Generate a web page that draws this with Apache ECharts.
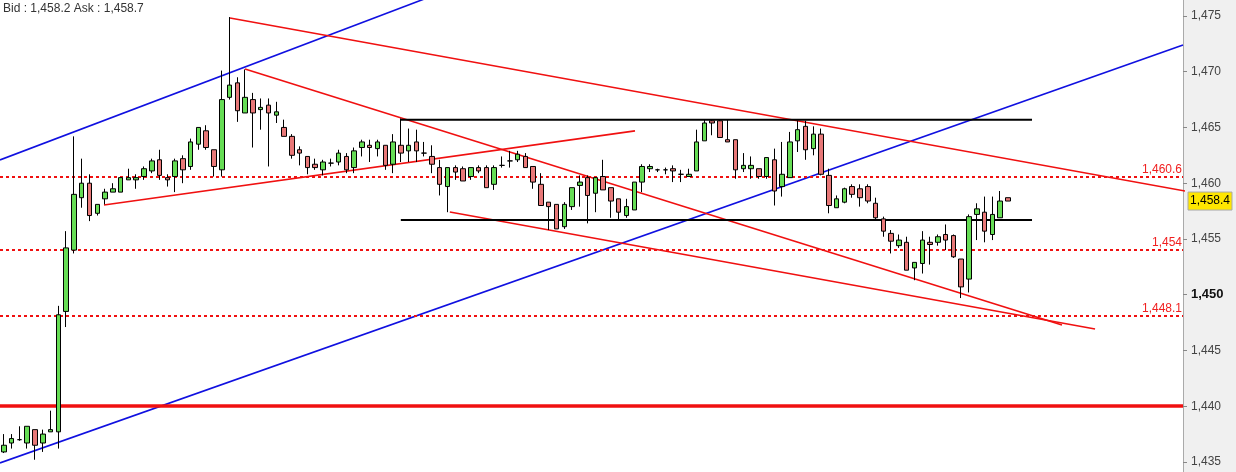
<!DOCTYPE html>
<html><head><meta charset="utf-8">
<script src="https://cdn.jsdelivr.net/npm/echarts@6/dist/echarts.min.js"></script>
<style>html,body{margin:0;padding:0;background:#fff}#c{width:1236px;height:472px}</style>
</head><body><div id="c"></div>
<script>
// OHLC: [open, close, low, high]
const ohlc = [
[1435.9,1436.5,1435.8,1437.5],[1436.7,1437.1,1436.2,1437.5],[1437.0,1437.0,1436.9,1438.2],[1436.7,1438.2,1436.2,1438.2],
[1437.9,1436.5,1435.2,1437.9],[1436.7,1437.5,1435.9,1437.9],[1437.7,1437.9,1437.7,1439.6],[1437.7,1448.2,1436.2,1449.0],
[1448.5,1454.2,1447.1,1455.7],[1454.0,1459.0,1453.7,1464.2],[1458.7,1460.0,1457.8,1462.2],[1460.0,1457.1,1456.6,1460.8],
[1457.3,1458.1,1457.1,1458.1],[1458.6,1459.2,1458.1,1459.5],[1459.2,1459.5,1459.2,1460.0],[1459.2,1460.5,1459.2,1460.5],
[1460.3,1460.5,1460.3,1461.3],[1460.3,1460.5,1459.5,1460.8],[1460.6,1461.3,1460.3,1461.5],[1461.1,1462.0,1460.9,1462.2],
[1462.1,1460.7,1460.3,1463.0],[1460.5,1460.3,1459.7,1460.8],[1460.6,1462.0,1459.2,1462.2],[1462.2,1461.2,1460.0,1462.5],
[1461.5,1463.7,1461.2,1464.0],[1463.5,1465.0,1463.0,1465.0],[1464.7,1463.2,1463.0,1465.2],[1463.0,1461.5,1460.6,1463.0],
[1461.2,1467.5,1460.6,1470.1],[1467.7,1468.8,1467.5,1474.9],[1469.0,1466.5,1465.5,1469.5],[1466.3,1467.7,1466.3,1470.2],
[1467.5,1466.3,1463.2,1468.1],[1466.6,1466.8,1464.8,1467.6],[1467.0,1466.3,1461.5,1467.6],[1466.1,1466.4,1465.4,1467.3],
[1465.0,1464.2,1464.2,1465.7],[1464.2,1462.5,1462.2,1464.4],[1463.0,1462.7,1461.6,1463.3],[1462.4,1461.4,1460.8,1462.4],
[1461.7,1461.4,1461.2,1462.2],[1461.2,1461.9,1460.7,1462.1],[1461.8,1461.8,1461.5,1462.2],[1461.9,1462.7,1461.6,1463.0],
[1462.4,1461.2,1460.9,1462.7],[1461.4,1462.9,1460.9,1463.2],[1463.2,1463.7,1462.4,1463.9],[1463.4,1463.2,1461.9,1463.9],
[1463.1,1463.7,1462.4,1463.9],[1463.4,1461.6,1461.2,1463.4],[1461.7,1463.7,1460.9,1464.4],[1463.4,1462.7,1461.9,1465.8],
[1462.9,1463.4,1461.9,1464.9],[1463.7,1462.9,1461.9,1464.8],[1462.7,1462.7,1462.4,1463.7],[1462.4,1461.7,1460.9,1463.4],
[1461.4,1459.9,1458.9,1462.1],[1459.7,1461.4,1457.4,1461.4],[1461.4,1461.0,1460.3,1461.6],[1461.3,1460.2,1460.2,1461.5],
[1460.6,1461.4,1460.3,1461.4],[1461.4,1461.1,1460.9,1461.6],[1461.4,1459.6,1459.6,1461.6],[1459.9,1461.4,1459.4,1461.6],
[1461.6,1461.6,1461.4,1462.4],[1462.0,1462.0,1461.4,1462.9],[1462.1,1462.6,1461.9,1462.9],[1462.4,1461.4,1461.4,1462.7],
[1461.5,1460.1,1459.5,1461.5],[1459.9,1458.0,1458.0,1460.9],[1458.3,1457.9,1455.8,1458.3],[1458.1,1455.9,1455.9,1458.1],
[1456.1,1458.1,1455.9,1458.3],[1457.9,1459.6,1457.6,1459.6],[1459.8,1460.1,1457.9,1460.7],[1460.5,1458.9,1456.4,1460.7],
[1459.1,1460.5,1457.4,1460.5],[1460.6,1459.4,1459.4,1462.1],[1459.6,1458.4,1456.9,1459.6],[1458.6,1457.4,1456.7,1458.6],
[1457.1,1457.9,1456.9,1458.6],[1457.6,1460.1,1457.6,1460.1],[1460.1,1461.5,1459.2,1461.7],[1461.3,1461.5,1461.0,1461.7],
[1461.2,1461.2,1461.0,1461.3],[1461.2,1461.2,1460.8,1461.4],[1461.3,1461.1,1460.1,1461.6],[1460.8,1460.8,1460.1,1461.2],
[1460.6,1460.8,1460.6,1461.3],[1461.1,1463.7,1461.1,1464.8],[1463.8,1465.4,1463.8,1465.7],[1465.6,1465.4,1464.3,1465.7],
[1465.6,1464.1,1464.1,1465.7],[1463.9,1463.7,1463.7,1465.7],[1463.9,1461.2,1460.4,1463.9],[1461.3,1461.6,1461.0,1462.7],
[1461.3,1461.6,1460.4,1462.4],[1461.3,1460.6,1460.4,1461.3],[1460.6,1462.3,1460.4,1462.3],[1462.1,1459.3,1458.0,1463.1],
[1459.7,1460.8,1458.8,1463.7],[1460.5,1463.7,1460.5,1464.6],[1463.8,1464.8,1462.8,1465.6],[1465.1,1463.0,1462.1,1465.6],
[1463.1,1464.4,1462.5,1465.1],[1464.4,1460.8,1460.7,1464.9],[1460.7,1458.0,1457.3,1461.3],[1457.8,1458.6,1457.8,1458.9],
[1458.3,1459.5,1458.2,1459.6],[1459.7,1459.0,1458.7,1459.9],[1459.5,1458.7,1457.9,1459.9],[1459.7,1458.4,1458.2,1459.9],
[1458.2,1456.9,1456.7,1458.7],[1456.8,1455.7,1455.2,1457.0],[1455.5,1454.8,1453.7,1455.8],[1454.4,1454.9,1454.2,1455.4],
[1454.7,1452.2,1452.2,1455.2],[1452.4,1452.9,1451.3,1452.9],[1452.8,1454.9,1451.9,1455.7],[1454.7,1454.5,1452.7,1455.2],
[1454.7,1455.2,1454.4,1455.4],[1455.4,1454.9,1454.0,1456.3],[1455.3,1453.4,1453.3,1455.4],[1453.2,1450.7,1449.7,1453.2],
[1451.4,1457.0,1450.2,1457.2],[1457.2,1457.7,1454.9,1458.2],[1457.4,1455.7,1454.7,1458.8],[1455.4,1457.2,1454.9,1458.8],
[1456.9,1458.4,1456.9,1459.3],[1458.7,1458.4,1458.4,1458.7]
];
const slots = 152;
const categories = Array.from({length: slots}, (_, i) => String(i));
const blueUpper = [[-0.5,1462.09],[76.6,1482.5]];
const blueLower = [[-0.5,1434.91],[151.5,1472.40]];
const redLong = [[29.05,1474.82],[151.76,1459.30]];
const redMid = [[30.98,1470.25],[135.95,1447.29]];
const redLow = [[57.3,1457.42],[140.2,1446.93]];
const redRise = [[12.86,1458.05],[81.09,1464.69]];
const blackTop = [[50.9,1465.7],[132.1,1465.7]];
const blackBottom = [[51.0,1456.7],[132.1,1456.7]];
const dottedLevels = [1460.6, 1454, 1448.1];
const dottedLabels = ['1,460.6','1,454','1,448.1'];
const supportLevel = 1440;
const yTicks = [1435,1440,1445,1450,1455,1460,1465,1470,1475];
const lastPrice = 1458.4;
const lastPriceLabel = '1,458.4';

function seg(data, color, width) {
  return {type:'line', xAxisIndex:1, data, symbol:'none', silent:true, clip:true, animation:false,
    lineStyle:{color, width}, z:3};
}
const fmt = v => v.toLocaleString('en-US', {minimumFractionDigits: v % 1 ? 1 : 0});
const chart = echarts.init(document.getElementById('c'));
chart.setOption({
  animation:false,
  backgroundColor:'#fff',
  title:{text:'Bid : 1,458.2 Ask : 1,458.7', left:-2, top:-2, textStyle:{fontSize:12, fontWeight:'normal', color:'#333', fontFamily:'Liberation Sans'}},
  graphic:[{type:'rect', shape:{x:1183,y:0,width:53,height:472}, style:{fill:'#f0f0f0'}, z:-10}],
  grid:{left:0, right:53, top:0, bottom:0},
  xAxis:[
    {type:'category', data:categories, show:false, boundaryGap:true},
    {type:'value', min:-0.5, max:slots-0.5, show:false}
  ],
  yAxis:{type:'value', position:'right', min:1434.1, max:1476.43,
    axisLine:{show:true, onZero:false, lineStyle:{color:'#aaa'}},
    axisTick:{show:true, length:4, customValues:yTicks, lineStyle:{color:'#888'}},
    splitLine:{show:false},
    axisLabel:{margin:8, fontSize:12, color:'#444', fontFamily:'Liberation Sans', customValues:yTicks,
      formatter: v => v===1450 ? '{b|'+fmt(v)+'}' : fmt(v),
      rich:{b:{fontWeight:'bold', fontSize:13, color:'#111'}}}
  },
  series:[
    seg(blueUpper,'#1010e0',1.6), seg(blueLower,'#1010e0',1.6),
    seg(redLong,'#f01010',1.6), seg(redMid,'#f01010',1.6), seg(redLow,'#f01010',1.6), seg(redRise,'#f01010',1.6),
    seg(blackTop,'#000',2), seg(blackBottom,'#000',2),
    {type:'candlestick', data:ohlc, barWidth:5, z:5,
      itemStyle:{color:'#66dd55', color0:'#e87878', borderColor:'#000', borderColor0:'#000', borderWidth:1},
      markLine:{symbol:'none', silent:true, animation:false,
        data:[
          ...dottedLevels.map((v,i)=>({yAxis:v, lineStyle:{color:'#f01010', type:[3,3], width:2},
             label:{show:true, position:'insideEndTop', formatter:dottedLabels[i], color:'#f02020', fontSize:12, distance:[1,1], fontFamily:'Liberation Sans'}})),
          {yAxis:supportLevel, lineStyle:{color:'#f01010', type:'solid', width:3.5}, label:{show:false}}
        ]}
    }
  ]
});
const py = chart.convertToPixel({yAxisIndex:0}, lastPrice);
chart.setOption({graphic:[
  {type:'rect', shape:{x:1183,y:0,width:53,height:472}, style:{fill:'#f0f0f0'}, z:-10},
  {type:'rect', shape:{x:1188, y:py-9, width:44, height:18}, style:{fill:'#ffe600', stroke:'#aaa', lineWidth:1}, z:50},
  {type:'text', x:1210, y:py, style:{text:lastPriceLabel, fill:'#000', fontSize:12, fontFamily:'Liberation Sans', align:'center', verticalAlign:'middle'}, z:51}
]});
</script></body></html>
